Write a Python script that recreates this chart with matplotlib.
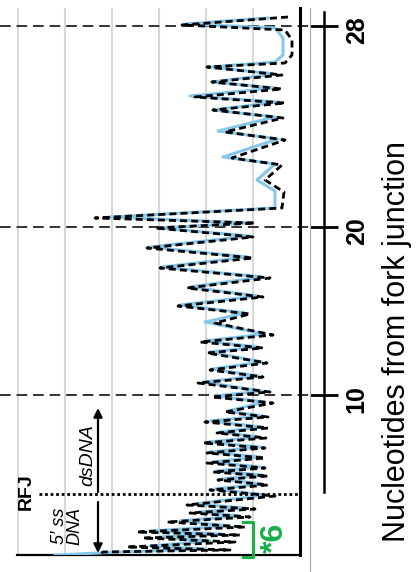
import matplotlib
matplotlib.use('Agg')
import matplotlib.pyplot as plt
from matplotlib.lines import Line2D
from matplotlib.transforms import blended_transform_factory

plt.rcParams['font.family'] = ['Liberation Sans', 'DejaVu Sans']

# migration (0 = bottom of scan) and fluorescence intensity
black_pos = [538, 530, 525, 515, 500, 492, 488, 480, 473, 466, 458, 452, 445, 437,
             423, 415, 397, 390, 375, 363, 347, 337, 332, 327, 318, 307, 297, 287,
             277, 267, 258, 249, 241, 232, 220, 213, 207, 202, 192, 185, 178, 172,
             163, 158, 152, 143, 138, 133, 127, 122, 117, 112, 107, 102, 97, 92,
             87, 83, 79, 75, 70, 65, 59, 50, 46, 42, 38, 33, 28, 23, 20, 17, 13,
             8, 5, 3, 0]
black_int = [12, 118, 15, 8, 8, 15, 93, 18, 88, 18, 105, 15, 87, 17,
             75, 15, 68, 18, 35, 16, 18, 205, 45, 145, 47, 153, 47, 140,
             30, 113, 37, 122, 50, 85, 27, 100, 37, 93, 33, 90, 37, 102,
             30, 88, 27, 75, 32, 95, 32, 83, 34, 97, 35, 93, 35, 93,
             35, 87, 32, 82, 32, 90, 25, 113, 45, 110, 50, 133, 55, 163, 60, 157, 65,
             173, 70, 197, 200]

blue_pos = [537, 531, 527, 517, 500, 493, 488, 481, 473, 467, 459, 453, 445, 438,
            424, 416, 398, 391, 375, 364, 347, 338, 332, 327, 319, 308, 298, 288,
            278, 268, 259, 250, 242, 233, 221, 214, 208, 203, 193, 186, 179, 173,
            164, 159, 153, 144, 139, 134, 128, 123, 118, 113, 108, 103, 98, 93,
            88, 84, 80, 76, 71, 66, 60, 51, 47, 43, 39, 34, 29, 24, 21, 18, 14,
            9, 6, 3, 0]
blue_int = [32, 115, 25, 17, 17, 25, 90, 25, 88, 25, 110, 22, 87, 25,
            82, 22, 77, 25, 43, 25, 25, 190, 50, 142, 50, 150, 52, 138,
            38, 110, 42, 120, 55, 95, 35, 95, 42, 90, 38, 88, 42, 97,
            38, 85, 35, 72, 38, 90, 38, 80, 40, 92, 40, 90, 40, 88,
            40, 84, 38, 78, 38, 85, 35, 105, 55, 100, 60, 120, 70, 150, 80, 140, 90,
            150, 95, 180, 245]

nt_labels = [10, 20, 28]
nt_pos = [160, 328, 529]
rfj_pos = 61
region_6 = [-2, 33]

green = '#17b04a'

fig = plt.figure(figsize=(4.18, 5.72), dpi=100)
ax = fig.add_axes([17/418, 17/572, 283/418, 547/572])

for k in range(1, 7):
    ax.axvline(47*k, color='#d9d9d9', lw=1.5, zorder=0)

ax.plot(blue_int, blue_pos, color='#86c8ec', lw=2.2, solid_joinstyle='round', zorder=3)
ax.plot(black_int, black_pos, color='black', lw=2.0, ls=(0, (2.5, 1.5)), zorder=4)

# nucleotide guide lines run across the whole panel
trans = blended_transform_factory(fig.transFigure, ax.transData)
for p in nt_pos:
    ax.plot([0, 312/418], [p, p], transform=trans, color='#333333', lw=1.4,
            dashes=(5.5, 3), clip_on=False, zorder=2)

ax.plot([261, 0], [rfj_pos, rfj_pos], color='black', lw=2, ls=(0, (1, 1)), zorder=5)

ax.text(274, rfj_pos + 2, 'RFJ', rotation=90, ha='center', va='center',
        fontsize=14, fontweight='bold')
ax.text(212, 100, 'dsDNA', rotation=90, ha='center', va='center',
        fontsize=14, style='italic')
ax.annotate('', xy=(202, 147), xytext=(202, 63),
            arrowprops=dict(arrowstyle='-|>', lw=1.6, color='black',
                            mutation_scale=13, shrinkA=0, shrinkB=0))
ax.text(233, 29, '5\u2032 ss\nDNA', rotation=90, ha='center', va='center',
        fontsize=13, style='italic', linespacing=0.9)
ax.annotate('', xy=(202, 2), xytext=(202, 53),
            arrowprops=dict(arrowstyle='-|>', lw=1.6, color='black',
                            mutation_scale=13, shrinkA=0, shrinkB=0))

ax.plot([57, 47, 47, 57], [region_6[1], region_6[1], region_6[0], region_6[0]],
        color=green, lw=2.2, clip_on=False, zorder=6)
ax.text(25, 17, '*6', rotation=90, ha='center', va='center', color=green,
        fontsize=23, fontweight='bold')

ax.set_xlim(283, 0)
ax.set_ylim(0, 547)
ax.set_xticks([])
ax.set_yticks([])
ax.spines['top'].set_visible(False)
ax.spines['left'].set_visible(False)
ax.spines['bottom'].set_linewidth(1.6)
ax.spines['right'].set_linewidth(2.2)

# nucleotide axis on the right
ax2 = fig.add_axes([0.6, 17/572, 324/418 - 0.6, 547/572])
ax2.patch.set_visible(False)
for s in ['top', 'left', 'bottom']:
    ax2.spines[s].set_visible(False)
ax2.spines['right'].set_linewidth(1.8)
ax2.spines['right'].set_bounds(63, 543)
ax2.set_ylim(0, 547)
ax2.set_xticks([])
ax2.yaxis.tick_right()
ax2.set_yticks(nt_pos, [str(n) for n in nt_labels])
ax2.tick_params(axis='y', direction='inout', length=20, width=2, pad=5,
                labelsize=18, labelrotation=90)
for t in ax2.get_yticklabels():
    t.set_fontweight('bold')

fig.add_artist(Line2D([310/418, 310/418], [0, 564/572], color='#aaaaaa', lw=0.8))

fig.text(397/418, 1 - 341/572, 'Nucleotides from fork junction', rotation=90,
         ha='center', va='center', fontsize=22)

fig.savefig('out.png', dpi=100)
